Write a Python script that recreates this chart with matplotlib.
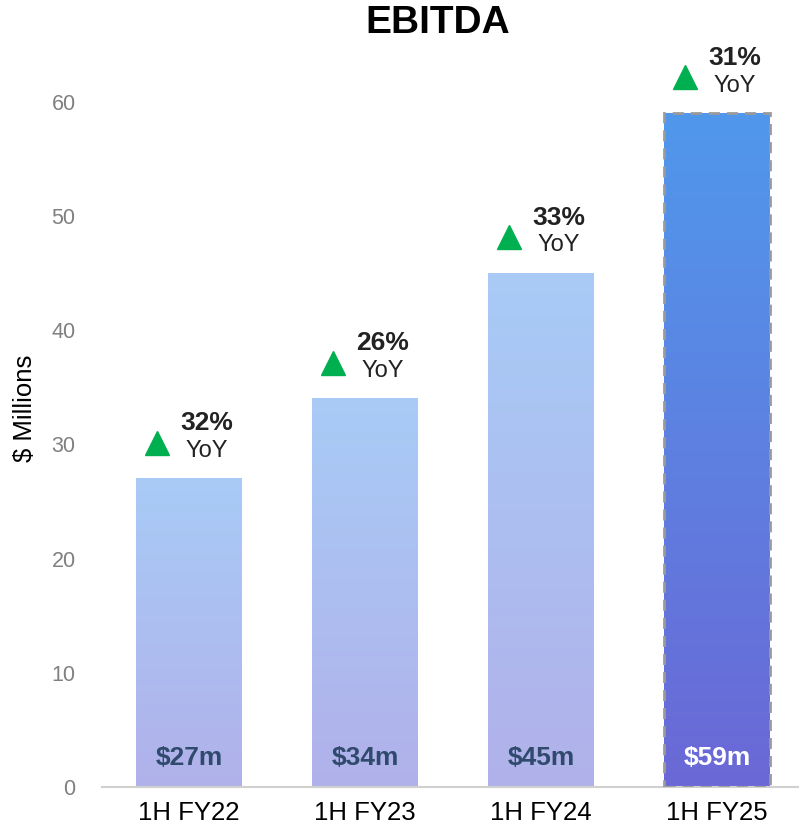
import numpy as np
import matplotlib.pyplot as plt
from matplotlib.colors import LinearSegmentedColormap
from matplotlib.transforms import ScaledTranslation

plt.rcParams['font.family'] = ['Liberation Sans', 'DejaVu Sans']

# Data
periods = ['1H FY22', '1H FY23', '1H FY24', '1H FY25']
ebitda = [27, 34, 45, 59]
value_labels = ['$27m', '$34m', '$45m', '$59m']
yoy = ['32%', '26%', '33%', '31%']

fig = plt.figure(figsize=(7.99, 8.33), dpi=100)
ax = fig.add_axes([0.1277, 0.0552, 0.8723, 0.891])

x = np.arange(len(periods))
width = 0.6

light = LinearSegmentedColormap.from_list('light', ['#b1b1ea', '#a8cbf6'])
dark = LinearSegmentedColormap.from_list('dark', ['#6b68d6', '#5098ec'])
grad = np.linspace(0, 1, 256).reshape(-1, 1)

bars = ax.bar(x, ebitda, width=width, color='none', edgecolor='none', zorder=2)
for i, b in enumerate(bars):
    x0, w, h = b.get_x(), b.get_width(), b.get_height()
    cmap = dark if i == len(bars) - 1 else light
    ax.imshow(grad, extent=[x0, x0 + w, 0, h], origin='lower', cmap=cmap,
              aspect='auto', zorder=1)
# last bar: dashed outline
last = bars[-1]
ax.bar(last.get_x() + last.get_width() / 2, last.get_height(), width=width,
       color='none', edgecolor='#9a9a9a', linestyle=(0, (4, 2.5)),
       linewidth=2, zorder=3)

# value labels inside bars
for i, (xi, lab) in enumerate(zip(x, value_labels)):
    col = 'white' if i == len(x) - 1 else '#2f4a6d'
    ax.text(xi, 2.5, lab, ha='center', va='center', fontsize=19,
            fontweight='bold', color=col, zorder=4)

# YoY annotations: green up-triangle plus growth text
tri_shift = ax.transData + ScaledTranslation(-23 / 72, 26 / 72, fig.dpi_scale_trans)
for xi, v, p in zip(x, ebitda, yoy):
    ax.plot([xi], [v], marker='^', markersize=17, color='#00b050',
            linestyle='none', clip_on=False, zorder=4, transform=tri_shift)
    ax.annotate(p, xy=(xi, v), xytext=(13, 40), textcoords='offset points',
                ha='center', va='center', fontsize=19, fontweight='bold',
                color='#222222', annotation_clip=False)
    ax.annotate('YoY', xy=(xi, v), xytext=(13, 20), textcoords='offset points',
                ha='center', va='center', fontsize=17, color='#222222',
                annotation_clip=False)

ax.set_xlim(-0.494, 3.466)
ax.set_ylim(0, 65)
ax.set_yticks(range(0, 61, 10))
ax.set_xticks(x)
ax.set_xticklabels(periods, fontsize=18.5, color='black')
ax.tick_params(axis='y', length=0, pad=19, labelsize=15.5, labelcolor='#808080')
ax.tick_params(axis='x', length=0, pad=10)
for s in ['top', 'right', 'left']:
    ax.spines[s].set_visible(False)
ax.spines['bottom'].set_color('#d0d0d0')
ax.spines['bottom'].set_linewidth(1.5)
ax.set_ylabel('$ Millions', fontsize=18.5, color='black')
ax.yaxis.set_label_coords(-0.094, 0.51)

fig.text(438 / 799, 1 - 23 / 833, 'EBITDA', ha='center', va='center',
         fontsize=28, fontweight='bold', color='black')

fig.savefig('out.png', dpi=100)
